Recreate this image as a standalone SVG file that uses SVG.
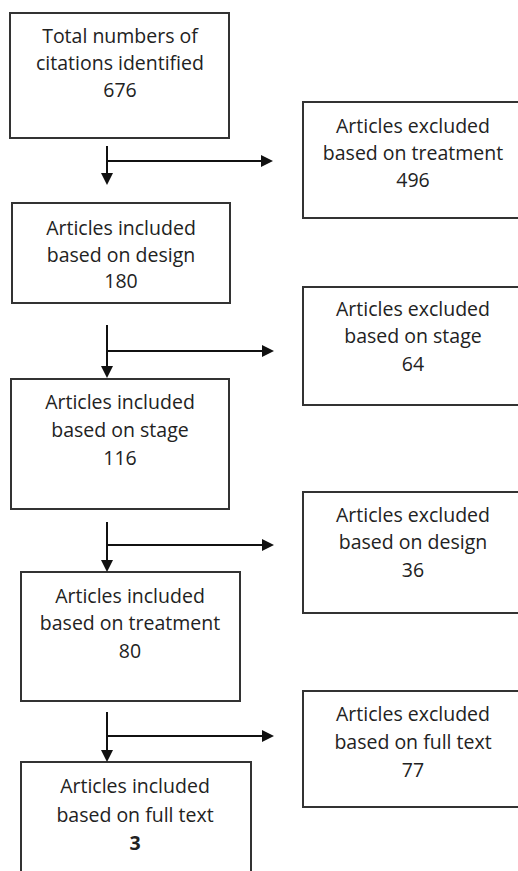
<svg xmlns="http://www.w3.org/2000/svg" width="518" height="871" viewBox="0 0 518 871">
<style>
.box{fill:#fff;stroke:#333;stroke-width:2}
.t{font-family:"Open Sans","Liberation Sans",sans-serif;font-size:19.5px;fill:#222;text-anchor:middle}
.b{font-weight:bold}
.c{fill:none;stroke:#111;stroke-width:2}
</style>
<defs>
<marker id="ah" viewBox="0 0 12 12" refX="2" refY="6" markerWidth="12" markerHeight="12" markerUnits="userSpaceOnUse" orient="auto">
<path d="M0,0 L12,6 L0,12 z" fill="#111"/>
</marker>
</defs>
<rect width="518" height="871" fill="#fff"/>
<g id="n1"><rect class="box" x="10" y="13" width="219" height="125"/>
<text class="t" x="120" y="43">Total numbers of</text><text class="t" x="120" y="70">citations identified</text><text class="t" x="120" y="97">676</text></g>
<g id="e1"><rect class="box" x="303" y="102" width="222" height="116"/>
<text class="t" x="413" y="133">Articles excluded</text><text class="t" x="413" y="160">based on treatment</text><text class="t" x="413" y="187">496</text></g>
<g id="n2"><rect class="box" x="12" y="203" width="218" height="100"/>
<text class="t" x="121" y="235">Articles included</text><text class="t" x="121" y="262">based on design</text><text class="t" x="121" y="288">180</text></g>
<g id="e2"><rect class="box" x="303" y="287" width="222" height="118"/>
<text class="t" x="413" y="316">Articles excluded</text><text class="t" x="413" y="343">based on stage</text><text class="t" x="413" y="371">64</text></g>
<g id="n3"><rect class="box" x="11" y="379" width="218" height="130"/>
<text class="t" x="120" y="409">Articles included</text><text class="t" x="120" y="437">based on stage</text><text class="t" x="120" y="465">116</text></g>
<g id="e3"><rect class="box" x="303" y="492" width="222" height="121"/>
<text class="t" x="413" y="522">Articles excluded</text><text class="t" x="413" y="549">based on design</text><text class="t" x="413" y="577">36</text></g>
<g id="n4"><rect class="box" x="21" y="572" width="219" height="129"/>
<text class="t" x="130" y="603">Articles included</text><text class="t" x="130" y="630">based on treatment</text><text class="t" x="130" y="658">80</text></g>
<g id="e4"><rect class="box" x="303" y="691" width="222" height="116"/>
<text class="t" x="413" y="721">Articles excluded</text><text class="t" x="413" y="749">based on full text</text><text class="t" x="413" y="777">77</text></g>
<g id="n5"><rect class="box" x="21" y="762" width="230" height="120"/>
<text class="t" x="135" y="793">Articles included</text><text class="t" x="135" y="822">based on full text</text><text class="t b" x="135" y="850">3</text></g>
<g id="connectors">
<path class="c" d="M107,146 V175" marker-end="url(#ah)"/>
<path class="c" d="M107,161 H263" marker-end="url(#ah)"/>
<path class="c" d="M107,325 V368" marker-end="url(#ah)"/>
<path class="c" d="M107,351 H264" marker-end="url(#ah)"/>
<path class="c" d="M107,522 V562" marker-end="url(#ah)"/>
<path class="c" d="M107,545 H264" marker-end="url(#ah)"/>
<path class="c" d="M107,712 V752" marker-end="url(#ah)"/>
<path class="c" d="M107,736 H264" marker-end="url(#ah)"/>
</g>
</svg>
